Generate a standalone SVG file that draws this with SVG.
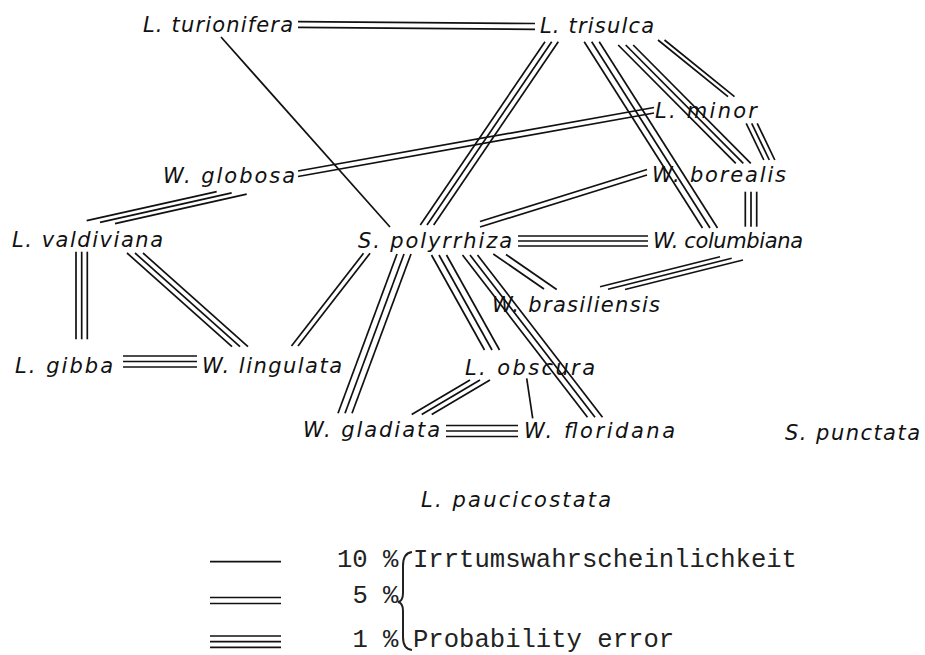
<svg xmlns="http://www.w3.org/2000/svg" width="925" height="655" viewBox="0 0 925 655">
<style>
.lbl{font-family:"DejaVu Sans","Liberation Sans",sans-serif;font-style:italic;font-size:21px;fill:#111}
.leg{font-family:"Liberation Mono","DejaVu Sans Mono",monospace;font-size:25.6px;fill:#222}
.c line{stroke:#111;stroke-width:1.7;fill:none}
</style>
<rect width="925" height="655" fill="#fff"/>
<g id="connectors" class="c">
<!-- turionifera - trisulca -->
<line x1="298" y1="21.7" x2="535" y2="23.5"/><line x1="298" y1="27.3" x2="535" y2="29.3"/>
<!-- turionifera - polyrrhiza -->
<line x1="221" y1="37" x2="390" y2="227"/>
<!-- trisulca - polyrrhiza -->
<line x1="545" y1="41.7" x2="420.3" y2="225"/><line x1="551.7" y1="41.7" x2="427" y2="225"/><line x1="558.3" y1="41.7" x2="433.7" y2="225"/>
<!-- trisulca - columbiana -->
<line x1="584.2" y1="41.7" x2="702.5" y2="228"/><line x1="591.7" y1="41.7" x2="710" y2="228"/><line x1="599.2" y1="41.7" x2="717.5" y2="228"/>
<!-- trisulca - borealis -->
<line x1="618.2" y1="45" x2="735.8" y2="163.3"/><line x1="625.7" y1="45" x2="743.3" y2="163.3"/><line x1="633.2" y1="45" x2="750.8" y2="163.3"/>
<!-- trisulca - minor -->
<line x1="658" y1="40" x2="728" y2="96.7"/><line x1="664.5" y1="40" x2="734.5" y2="96.7"/>
<!-- minor - borealis -->
<line x1="746.2" y1="123.3" x2="763.8" y2="160"/><line x1="751.7" y1="123.3" x2="769.3" y2="160"/><line x1="757.2" y1="123.3" x2="774.8" y2="160"/>
<!-- globosa - minor -->
<line x1="298" y1="171" x2="654" y2="107.5"/><line x1="298" y1="176.5" x2="654" y2="113"/>
<!-- borealis - polyrrhiza -->
<line x1="480" y1="221.5" x2="647" y2="169.5"/><line x1="480" y1="227" x2="647" y2="175"/>
<!-- borealis - columbiana -->
<line x1="745.3" y1="191.7" x2="745.3" y2="226.7"/><line x1="751" y1="191.7" x2="751" y2="226.7"/><line x1="756.7" y1="191.7" x2="756.7" y2="226.7"/>
<!-- polyrrhiza - columbiana -->
<line x1="518" y1="236" x2="648" y2="236"/><line x1="518" y1="241" x2="648" y2="241"/><line x1="518" y1="246" x2="648" y2="246"/>
<!-- columbiana - brasiliensis -->
<line x1="600" y1="286.7" x2="720" y2="256.7"/><line x1="608" y1="289.2" x2="731.7" y2="258.3"/><line x1="625" y1="289.5" x2="743" y2="260"/>
<!-- polyrrhiza - brasiliensis -->
<line x1="493.3" y1="254" x2="544" y2="289"/><line x1="506" y1="254.5" x2="556.7" y2="289.5"/>
<!-- polyrrhiza - floridana -->
<line x1="462.5" y1="255" x2="587.5" y2="417.3"/><line x1="470" y1="255" x2="595" y2="417.3"/><line x1="477.5" y1="255" x2="602.5" y2="417.3"/>
<!-- polyrrhiza - obscura -->
<line x1="431.5" y1="255" x2="484.5" y2="350"/><line x1="439" y1="255" x2="492" y2="350"/><line x1="446.5" y1="255" x2="499.5" y2="350"/>
<!-- polyrrhiza - gladiata -->
<line x1="397" y1="254" x2="338" y2="413.3"/><line x1="404" y1="254" x2="345" y2="413.3"/><line x1="411" y1="254" x2="352" y2="413.3"/>
<!-- polyrrhiza - lingulata -->
<line x1="363.5" y1="253.3" x2="291.5" y2="346"/><line x1="370" y1="253.3" x2="298" y2="346"/>
<!-- globosa - valdiviana -->
<line x1="86.7" y1="220.7" x2="216.7" y2="191.7"/><line x1="100" y1="222.3" x2="231.7" y2="192.9"/><line x1="115" y1="223.6" x2="246.7" y2="194.2"/>
<!-- valdiviana - gibba -->
<line x1="76" y1="251.7" x2="76" y2="339.3"/><line x1="81.7" y1="251.7" x2="81.7" y2="339.3"/><line x1="87.3" y1="251.7" x2="87.3" y2="339.3"/>
<!-- valdiviana - lingulata -->
<line x1="127" y1="253" x2="232" y2="346.7"/><line x1="135" y1="253" x2="240" y2="346.7"/><line x1="143" y1="253" x2="248" y2="346.7"/>
<!-- gibba - lingulata -->
<line x1="123" y1="356" x2="197" y2="356"/><line x1="123" y1="361.5" x2="197" y2="361.5"/><line x1="123" y1="367" x2="197" y2="367"/>
<!-- obscura - gladiata -->
<line x1="470" y1="380" x2="411.7" y2="414.5"/><line x1="480" y1="380" x2="421.7" y2="414.5"/><line x1="490" y1="380" x2="431.7" y2="414.5"/>
<!-- obscura - floridana -->
<line x1="526.7" y1="378.3" x2="532.7" y2="418.3"/>
<!-- gladiata - floridana -->
<line x1="446" y1="425.5" x2="518" y2="425.5"/><line x1="446" y1="431" x2="518" y2="431"/><line x1="446" y1="436.5" x2="518" y2="436.5"/>
</g>
<g id="n-turionifera"><text class="lbl" x="143" y="32" textLength="150" lengthAdjust="spacing">L. turionifera</text></g>
<g id="n-trisulca"><text class="lbl" x="540" y="33" textLength="114" lengthAdjust="spacing">L. trisulca</text></g>
<g id="n-minor"><text class="lbl" x="655" y="118" textLength="102" lengthAdjust="spacing">L. minor</text></g>
<g id="n-borealis"><text class="lbl" x="652" y="182" textLength="134" lengthAdjust="spacing">W. borealis</text></g>
<g id="n-globosa"><text class="lbl" x="163" y="183" textLength="132" lengthAdjust="spacing">W. globosa</text></g>
<g id="n-valdiviana"><text class="lbl" x="12" y="247" textLength="151" lengthAdjust="spacing">L. valdiviana</text></g>
<g id="n-polyrrhiza"><text class="lbl" x="358" y="248" textLength="154" lengthAdjust="spacing">S. polyrrhiza</text></g>
<g id="n-columbiana"><text class="lbl" x="653" y="248" textLength="150" lengthAdjust="spacing">W. columbiana</text></g>
<g id="n-brasiliensis"><text class="lbl" x="492" y="312" textLength="168" lengthAdjust="spacing">W. brasiliensis</text></g>
<g id="n-gibba"><text class="lbl" x="15" y="373" textLength="98" lengthAdjust="spacing">L. gibba</text></g>
<g id="n-lingulata"><text class="lbl" x="202" y="373" textLength="140" lengthAdjust="spacing">W. lingulata</text></g>
<g id="n-obscura"><text class="lbl" x="465" y="375" textLength="130" lengthAdjust="spacing">L. obscura</text></g>
<g id="n-gladiata"><text class="lbl" x="303" y="437" textLength="137" lengthAdjust="spacing">W. gladiata</text></g>
<g id="n-floridana"><text class="lbl" x="524" y="438" textLength="151" lengthAdjust="spacing">W. floridana</text></g>
<g id="n-punctata"><text class="lbl" x="785" y="440" textLength="135" lengthAdjust="spacing">S. punctata</text></g>
<g id="n-paucicostata"><text class="lbl" x="421" y="507" textLength="190" lengthAdjust="spacing">L. paucicostata</text></g>
<g id="legend">
<g class="c">
<line x1="210" y1="561.7" x2="281" y2="561.7"/>
<line x1="210" y1="597.5" x2="281" y2="597.5"/><line x1="210" y1="603.5" x2="281" y2="603.5"/>
<line x1="210" y1="636" x2="281" y2="636"/><line x1="210" y1="641.7" x2="281" y2="641.7"/><line x1="210" y1="647.3" x2="281" y2="647.3"/>
</g>
<text class="leg" x="337" y="567.3">10 %</text>
<text class="leg" x="352.4" y="603.3">5 %</text>
<text class="leg" x="352.4" y="647.3">1 %</text>
<path d="M412,552 Q403,553 403,566 L403,593 Q403,601 398,602 Q403,603 403,611 L403,637 Q403,649 412,650" fill="none" stroke="#222" stroke-width="2"/>
<text class="leg" x="413" y="567.3">Irrtumswahrscheinlichkeit</text>
<text class="leg" x="413" y="647.3">Probability error</text>
</g>
</svg>
